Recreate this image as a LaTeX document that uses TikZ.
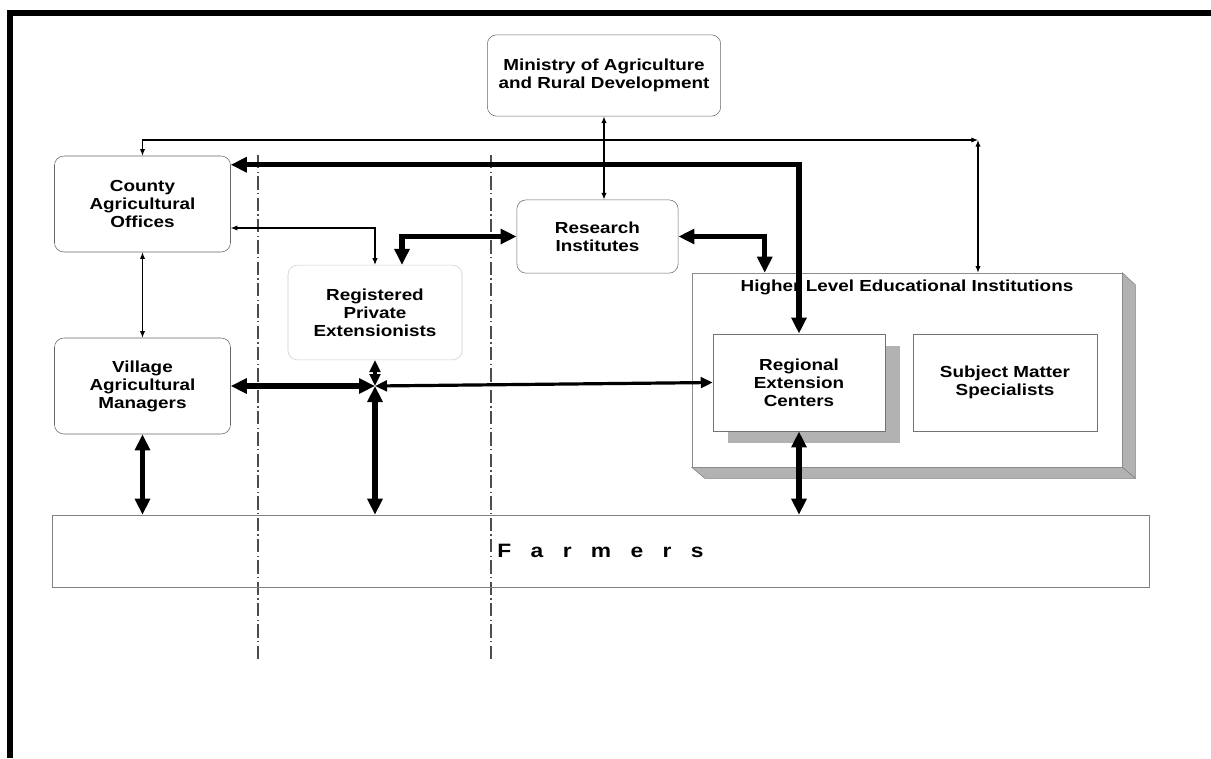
\documentclass[tikz,border=0pt]{standalone}
\usepackage{fontspec}
\setmainfont[FakeStretch=1.18]{Liberation Sans}
\usetikzlibrary{shadows}
\usetikzlibrary{positioning}
\usetikzlibrary{arrows.meta,calc}
\newcommand{\boxfont}{\bfseries\fontsize{12}{13.5}\selectfont}
\tikzstyle{roundbox}=[draw=black!60,fill=white,rounded corners=7pt,align=center,inner sep=2pt,font=\boxfont]
\tikzstyle{plainbox}=[draw=black!55,fill=white,minimum height=73pt,align=center,inner sep=2pt,font=\boxfont]
\tikzstyle{thinedge}=[draw,line width=0.8pt,{Latex[length=5pt,width=4pt]}-{Latex[length=5pt,width=4pt]}]
\tikzstyle{thickedge}=[draw,line width=4pt,{Triangle[length=12pt,width=11pt]}-{Triangle[length=12pt,width=11pt]}]
\tikzstyle{midedge}=[draw,line width=2.4pt,{Triangle[length=9pt,width=8pt]}-{Triangle[length=9pt,width=8pt]}]
\tikzstyle{sepline}=[draw=black!70,line width=0.8pt,dash pattern=on 10pt off 2.5pt on 1pt off 2.5pt]

\begin{document}
\begin{tikzpicture}[x=0.75pt,y=-0.75pt]

   \useasboundingbox (0,0) rectangle (1211,758);
   \draw[line width=4pt] (10,758) -- (10,13) -- (1211,13);

   % separators
   \foreach \xx in {258,491}
        \path[sepline] (\xx,155) -- (\xx,662);

   \foreach \pos/\name/\bw/\bh/\label in {{(604,75.5)/ministry/175pt/61pt/{Ministry of Agriculture\\and Rural Development}},
            {(142.5,204)/county/132pt/72pt/{County\\Agricultural\\Offices}},
            {(597.5,236.5)/research/121pt/55pt/{Research\\Institutes}},
            {(142.5,386)/village/132pt/72pt/{Village\\Agricultural\\Managers}}}
        \node[roundbox,minimum width=\bw,minimum height=\bh] (\name) at \pos {\label};
   \node[roundbox,draw=black!20,minimum width=130.5pt,minimum height=71pt] (registered) at (375,312.5) {Registered\\Private\\Extensionists};

   \node[draw=black!45,fill=white,minimum width=322.5pt,minimum height=145.5pt] (higher) at (907,370) {};
   \filldraw[fill=black!30,draw=black!50] (higher.north east) -- ++(13,12) -- ($(higher.south east)+(13,11)$) -- (higher.south east) -- cycle;
   \filldraw[fill=black!30,draw=black!50] (higher.south west) -- ++(13,11) -- ($(higher.south east)+(13,11)$) -- (higher.south east) -- cycle;
   \node[font=\boxfont] (higherlabel) at ($(higher.north)+(0,15)$) {Higher Level Educational Institutions};
   \node[plainbox,minimum width=129pt,drop shadow={shadow xshift=11pt,shadow yshift=-9pt,fill=black!30,opacity=1}] (regional) at (799,382.5) {Regional\\Extension\\Centers};
   \node[plainbox,minimum width=138pt] (subject) at (1005,382.5) {Subject Matter\\Specialists};

   \node[draw=black!50,minimum width=823pt,minimum height=54pt,font=\bfseries\fontsize{14.5}{16}\selectfont] (farmers) at (600.5,551) {\spaceskip=14.5pt F a r m e r s};

   \coordinate (junction) at (375,386);
   \coordinate (hcorner) at (978,140);

   \path[thinedge] (county.north) |- (hcorner);
   \path[thinedge] (hcorner) -- (hcorner |- higher.north);
   \path[thinedge] (ministry.south) -- (ministry.south |- research.north);
   \path[thinedge] ($(county.east)+(0,24)$) -| (registered.north);
   \path[thinedge] (county.south) -- (village.north);

   \path[thickedge] ($(county.north east)+(0,9)$) -| (regional.north);
   \path[thickedge] (research.west) -| ($(registered.north)+(27,0)$);
   \path[thickedge] (research.east) -| ($(higher.north west)+(73,0)$);
   \path[thickedge] (village.east) -- (junction);
   \path[thickedge] (junction) -- (junction |- farmers.north);
   \path[thickedge] (village.south) -- (village.south |- farmers.north);
   \path[thickedge] (regional.south) -- (regional.south |- farmers.north);
   \path[midedge] (registered.south) -- (junction);
   \path[midedge] (junction) -- (regional.west);

\end{tikzpicture}
\end{document}
